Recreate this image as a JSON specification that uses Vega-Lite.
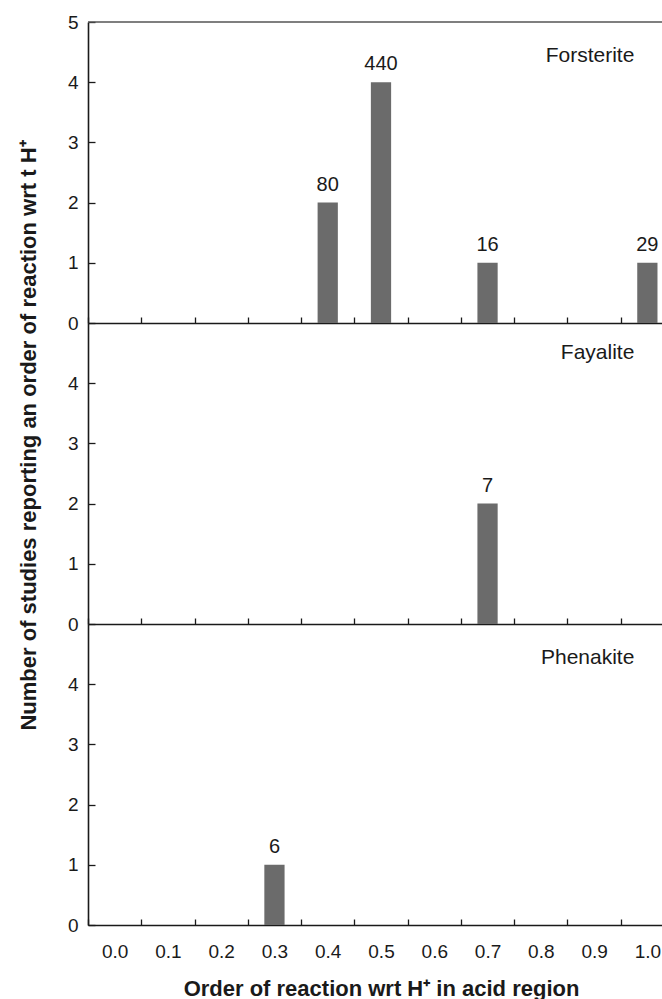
{
  "$schema": "https://vega.github.io/schema/vega-lite/v6.json",
  "padding": {"left": 16, "top": 13, "right": 0, "bottom": 0},
  "spacing": 0,
  "bounds": "flush",
  "config": {
    "font": "Liberation Sans",
    "view": {"stroke": null},
    "axis": {"domainColor": "#1a1a1a", "domainWidth": 1.6, "tickColor": "#1a1a1a", "tickWidth": 1.3, "labelColor": "#1a1a1a", "labelFontSize": 19, "labelFont": "Liberation Sans", "grid": false, "titleColor": "#1a1a1a", "titleFont": "Liberation Sans"}
  },
  "datasets": {
    "studies": [
      {"mineral": "Forsterite", "order": "0.4", "count": 2, "label": "80"},
      {"mineral": "Forsterite", "order": "0.5", "count": 4, "label": "440"},
      {"mineral": "Forsterite", "order": "0.7", "count": 1, "label": "16"},
      {"mineral": "Forsterite", "order": "1.0", "count": 1, "label": "29"},
      {"mineral": "Fayalite", "order": "0.7", "count": 2, "label": "7"},
      {"mineral": "Phenakite", "order": "0.3", "count": 1, "label": "6"}
    ]
  },
  "vconcat": [
    {
      "width": 586, "height": 301,
      "data": {"name": "studies"},
      "transform": [{"filter": "datum.mineral === 'Forsterite'"}],
      "encoding": {
        "x": {"field": "order", "type": "ordinal", "scale": {"domain": ["0.0","0.1","0.2","0.3","0.4","0.5","0.6","0.7","0.8","0.9","1.0"], "paddingInner": 0, "paddingOuter": 0}, "axis": {"title": null, "labels": false, "tickBand": "extent", "tickSize": -6}},
        "y": {"field": "count", "type": "quantitative", "scale": {"domain": [0, 5], "nice": false}, "axis": {"title": null, "values": [0,1,2,3,4,5], "tickSize": -7, "labelPadding": 17}}
      },
      "layer": [
        {"mark": {"type": "bar", "color": "#6b6b6b", "width": {"band": 0.38}}},
        {"mark": {"type": "text", "baseline": "alphabetic", "dy": -12, "fontSize": 20, "color": "#1a1a1a"}, "encoding": {"text": {"field": "label"}}},
        {"mark": {"type": "rule", "color": "#555555", "strokeWidth": 1.5}, "encoding": {"x": null, "y": {"datum": 5}, "opacity": {"condition": {"test": "datum.order === '0.5'", "value": 1}, "value": 0}}},
        {"mark": {"type": "text", "align": "right", "baseline": "alphabetic", "fontSize": 21, "dx": -13, "color": "#1a1a1a"}, "encoding": {"x": {"datum": "1.0"}, "y": {"datum": 4.33}, "text": {"field": "mineral"}, "opacity": {"condition": {"test": "datum.order === '0.5'", "value": 1}, "value": 0}}}
      ]
    },
    {
      "width": 586, "height": 301,
      "data": {"name": "studies"},
      "transform": [{"filter": "datum.mineral === 'Fayalite'"}],
      "encoding": {
        "x": {"field": "order", "type": "ordinal", "scale": {"domain": ["0.0","0.1","0.2","0.3","0.4","0.5","0.6","0.7","0.8","0.9","1.0"], "paddingInner": 0, "paddingOuter": 0}, "axis": {"title": null, "labels": false, "tickBand": "extent", "tickSize": -6}},
        "y": {"field": "count", "type": "quantitative", "scale": {"domain": [0, 5], "nice": false}, "axis": {"title": "Number of studies reporting an order of reaction wrt t H⁺", "titleFontSize": 22, "titleFontWeight": "bold", "titleAngle": -90, "titleAlign": "center", "titleBaseline": "bottom", "titleX": -48, "titleY": 112, "values": [0,1,2,3,4], "tickSize": -7, "labelPadding": 17}}
      },
      "layer": [
        {"mark": {"type": "bar", "color": "#6b6b6b", "width": {"band": 0.38}}},
        {"mark": {"type": "text", "baseline": "alphabetic", "dy": -12, "fontSize": 20, "color": "#1a1a1a"}, "encoding": {"text": {"field": "label"}}},
        {"mark": {"type": "text", "align": "right", "baseline": "alphabetic", "fontSize": 21, "dx": -13, "color": "#1a1a1a"}, "encoding": {"x": {"datum": "1.0"}, "y": {"datum": 4.41}, "text": {"field": "mineral"}}}
      ]
    },
    {
      "width": 586, "height": 301,
      "data": {"name": "studies"},
      "transform": [{"filter": "datum.mineral === 'Phenakite'"}],
      "encoding": {
        "x": {"field": "order", "type": "ordinal", "scale": {"domain": ["0.0","0.1","0.2","0.3","0.4","0.5","0.6","0.7","0.8","0.9","1.0"], "paddingInner": 0, "paddingOuter": 0}, "axis": {"title": "Order of reaction wrt H⁺ in acid region", "titleFontSize": 22, "titleFontWeight": "bold", "titlePadding": 17, "labelAngle": 0, "tickBand": "extent", "tickSize": -6, "labelPadding": 23}},
        "y": {"field": "count", "type": "quantitative", "scale": {"domain": [0, 5], "nice": false}, "axis": {"title": null, "values": [0,1,2,3,4], "tickSize": -7, "labelPadding": 17}}
      },
      "layer": [
        {"mark": {"type": "bar", "color": "#6b6b6b", "width": {"band": 0.38}}},
        {"mark": {"type": "text", "baseline": "alphabetic", "dy": -12, "fontSize": 20, "color": "#1a1a1a"}, "encoding": {"text": {"field": "label"}}},
        {"mark": {"type": "text", "align": "right", "baseline": "alphabetic", "fontSize": 21, "dx": -13, "color": "#1a1a1a"}, "encoding": {"x": {"datum": "1.0"}, "y": {"datum": 4.33}, "text": {"field": "mineral"}}}
      ]
    }
  ]
}
